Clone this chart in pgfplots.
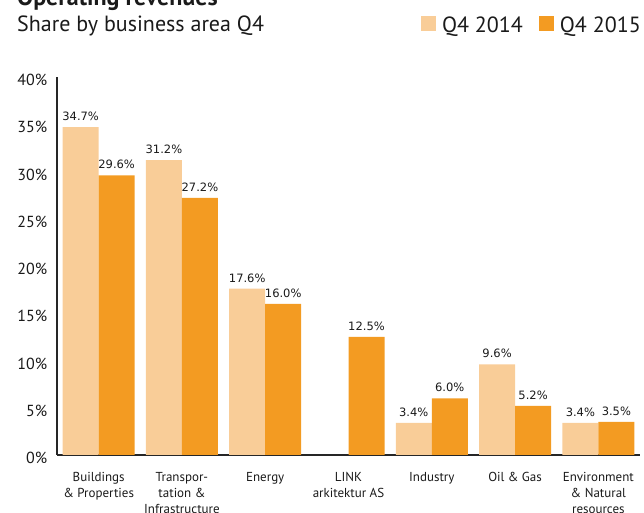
\documentclass[border=0pt]{standalone}
\usepackage{pgfplots}
\pgfplotsset{compat=1.18}
\usepackage{fontspec}
\setmainfont{PT Sans}
\newfontfamily\valfont{DejaVu Sans}
\definecolor{lightbar}{HTML}{F9CD98}
\definecolor{darkbar}{HTML}{F39B22}
\definecolor{txt}{HTML}{1A1A1A}
\begin{document}
\begin{tikzpicture}[x=1pt,y=1pt]
\useasboundingbox (0,0) rectangle (644,513);
\node[anchor=base west, font=\bfseries\fontsize{24}{28}\selectfont, inner sep=0, text=txt] at (17,507) {Operating revenues};
\node[anchor=base west, font=\fontsize{22}{26}\selectfont, inner sep=0, text=txt] at (17,481) {Share by business area Q4};
\begin{axis}[
  at={(57pt,58pt)}, anchor=south west,
  width=583pt, height=378pt, scale only axis,
  xmin=-0.5, xmax=6.5, ymin=0, ymax=40,
  ybar=0pt, bar width=36pt,
  axis lines=left,
  axis line style={-, line width=1.3pt, black!85},
  major tick length=0pt,
  xtick={0,...,6},
  xticklabels={{Buildings\\\& Properties},{Transpor-\\tation \&\\Infrastructure},Energy,{LINK\\arkitektur AS},Industry,{Oil \& Gas},{Environment\\\& Natural\\resources}},
  xticklabel style={align=center, anchor=north, inner sep=0pt, yshift=-17pt, font=\fontsize{13}{16}\selectfont, text=txt},
  ytick={0,5,...,40},
  yticklabel={\pgfmathprintnumber{\tick}\%},
  /pgf/number format/assume math mode=true,
  yticklabel style={anchor=east, inner sep=0pt, xshift=-9.5pt, yshift=-3pt, font=\fontsize{16}{19}\selectfont, text=txt},
  clip=false,
  nodes near coords={\pgfmathprintnumber[fixed,precision=1,fixed zerofill]{\pgfplotspointmeta}\%},
  nodes near coords style={font=\valfont\fontsize{11.5}{13}\selectfont, anchor=south, inner sep=0pt, yshift=6pt, text=txt},
  legend columns=2,
  legend style={at={(1.0017,1.161)}, anchor=north east, draw=none, fill=none, inner sep=0pt,
    font=\fontsize{22}{26}\selectfont, text=txt,
    /tikz/every even column/.append style={column sep=16pt},
    nodes={inner sep=0pt, text depth=0pt}},
  legend cell align=left,
  legend image code/.code={\fill[#1] (0pt,-7pt) rectangle (15pt,8pt); \path (21pt,0pt);},
]
\addplot[fill=lightbar, draw=none] coordinates {(0,34.7)(1,31.2)(2,17.6)(4,3.4)(5,9.6)(6,3.4)};
\addlegendentry{Q4 2014}
\addplot[fill=darkbar, draw=none] coordinates {(0,29.6)(1,27.2)(2,16.0)(3,12.5)(4,6.0)(5,5.2)(6,3.5)};
\addlegendentry{Q4 2015}
\end{axis}
\end{tikzpicture}
\end{document}
